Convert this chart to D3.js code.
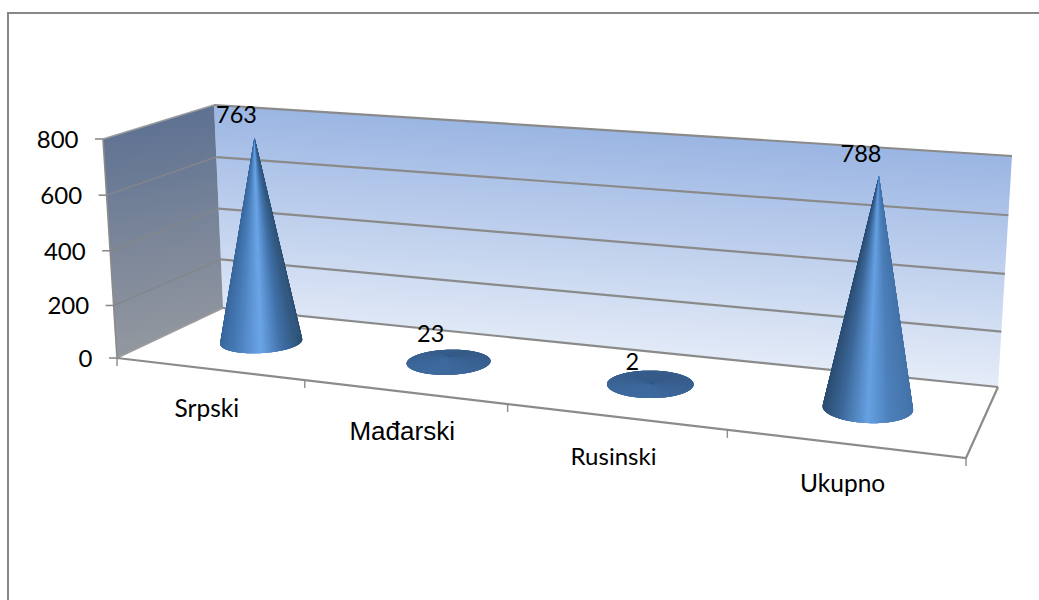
<!DOCTYPE html>
<html><head><meta charset="utf-8">
<script src="https://cdn.jsdelivr.net/npm/d3@7"></script>
<style>html,body{margin:0;padding:0;background:#fff;overflow:hidden}svg{display:block}text{fill:#000}</style>
</head><body><svg id="c" width="1039" height="600"></svg>
<script>
// ---- data ----
const categories = ["Srpski", "Mađarski", "Rusinski", "Ukupno"];
const values = [763, 23, 2, 788];
const yTicks = [0, 200, 400, 600, 800];

// ---- layout: projected corners of the chart box ----
const floorQuad = [[117,358],[966,458],[998,387],[223,308]];   // FL, FR, BR, BL
const topQuad   = [[103,139],[981,211],[1012,156],[214,105]];

function homography(q){
  const [[x0,y0],[x1,y1],[x2,y2],[x3,y3]] = q;
  const dx1=x1-x2, dx2=x3-x2, sx=x0-x1+x2-x3, dy1=y1-y2, dy2=y3-y2, sy=y0-y1+y2-y3;
  const den=dx1*dy2-dx2*dy1;
  const g=(sx*dy2-dx2*sy)/den, h=(dx1*sy-sx*dy1)/den;
  const a=x1-x0+g*x1, b=x3-x0+h*x3, c=x0, d=y1-y0+g*y1, e=y3-y0+h*y3, f=y0;
  return (u,v)=>{const w=g*u+h*v+1;return [(a*u+b*v+c)/w,(d*u+e*v+f)/w];};
}
const floorH = homography(floorQuad), topH = homography(topQuad);
const xBand = d3.scaleBand().domain(categories).range([0,1]);
const yT = d3.scalePow().exponent(1.03).domain([0,800]).range([0,1]);
const warp = u => u + .04*u*(1-u);
function P(u,d,v){
  const w=warp(u), a=floorH(w,d), b=topH(w,d), t=yT(v);
  return [a[0]+(b[0]-a[0])*t, a[1]+(b[1]-a[1])*t];
}
const leanX = d3.scaleLinear().domain([0,1]).range([-10.3,14.5]);
const svg = d3.select("#c");
const defs = svg.append("defs");
const line = d3.line();
const GRID="#8a8a8a", AXIS="#8b8b8b";

function grad(id,x1,y1,x2,y2,c1,c2){
  const g=defs.append("linearGradient").attr("id",id).attr("gradientUnits","userSpaceOnUse")
    .attr("x1",x1).attr("y1",y1).attr("x2",x2).attr("y2",y2);
  g.append("stop").attr("offset",0).attr("stop-color",c1);
  g.append("stop").attr("offset",1).attr("stop-color",c2);
}
grad("backWall",612,128,596,362,"#9ab5e3","#e6edf8");
grad("leftWall",150,122,185,338,"#5f7292","#92979f");

// outer frame
svg.append("path").attr("d","M8,600V13H1039").attr("fill","none").attr("stroke","#888").attr("stroke-width",2);

// walls
svg.append("path").attr("d",line([P(0,1,0),P(1,1,0),P(1,1,800),P(0,1,800)])+"Z").attr("fill","url(#backWall)");
svg.append("path").attr("d",line([P(0,0,0),P(0,1,0),P(0,1,800),P(0,0,800)])+"Z").attr("fill","url(#leftWall)");

// gridlines
yTicks.forEach(v=>{
  svg.append("path").attr("d",line([P(1,1,v),P(0,1,v)])).attr("fill","none").attr("stroke",GRID).attr("stroke-width",2.2);
  svg.append("path").attr("d",line([P(0,1,v),P(0,0,v)])).attr("fill","none").attr("stroke",v===0||v===800?"#9a9c9e":"#83868a").attr("stroke-width",1.5);
  const p=P(0,0,v);
  svg.append("path").attr("d",line([[p[0]-8,p[1]],p])).attr("stroke",AXIS).attr("stroke-width",1.6);
  svg.append("text").attr("x",p[0]-24.5).attr("y",p[1]+9).attr("text-anchor","end")
    .attr("font-family","Lato").attr("font-size",24).text(v);
});
// axes and floor edges
svg.append("path").attr("d",line([P(0,0,800),P(0,0,0)])).attr("fill","none").attr("stroke",AXIS).attr("stroke-width",1.6);
svg.append("path").attr("d",line([P(0,0,0),P(1,0,0),P(1,1,0)])).attr("fill","none").attr("stroke",AXIS).attr("stroke-width",2.2);
d3.range(categories.length+1).forEach(i=>{
  const p=P(i/categories.length,0,0);
  svg.append("path").attr("d",line([p,[p[0],p[1]+8]])).attr("stroke",AXIS).attr("stroke-width",1.4);
});

// category labels
const labelFonts=[["Lato",24.5],["Liberation Sans",26],["Lato",24],["Lato",24.5]];
categories.forEach((c,i)=>{
  const a=P(i/categories.length,0,0), b=P((i+1)/categories.length,0,0);
  svg.append("text").attr("x",(a[0]+b[0])/2-4).attr("y",(a[1]+b[1])/2+48).attr("text-anchor","middle")
    .attr("font-family",labelFonts[i][0]).attr("font-size",labelFonts[i][1]).text(c);
});

// cones
const shadeStops=[0,.2,.5,.75,1];
const shadeLeft = d3.scaleLinear().domain(shadeStops).range(["#3c6ca3","#4a80bd","#6ca6e8","#3f6fa6","#2a4a68"]);
const shadeRight = d3.scaleLinear().domain(shadeStops).range(["#2b4a6c","#3a6494","#66a0e2","#4f82bd","#487ab2"]);
const flat = d3.scaleLinear().domain([-1,1]).range(["#375c89","#3f6a9e"]);
const RU=.049, RD=.21, DEPTH=.5;
categories.forEach((c,i)=>{
  const u=xBand(c)+xBand.bandwidth()/2, v=values[i];
  const base=P(u,DEPTH,0), topPt=P(u,DEPTH,v);
  const apex=[base[0]+leanX(u)*yT(v), topPt[1]];
  const step=Math.PI/180;
  const angles=d3.range(0,360,1).map(a=>a*step);
  const rim=a=>P(u+RU*Math.cos(a),DEPTH+RD*Math.sin(a),0);
  const xs=angles.map(a=>rim(a)[0]), x0=d3.min(xs), x1=d3.max(xs);
  const g=svg.append("g");
  const tall=v>100;
  const colourAt=a=>{
    const k=(rim(a)[0]-x0)/(x1-x0);
    return tall?d3.interpolateRgb(shadeLeft(k),shadeRight(k))(u):flat(-Math.sin(a));
  };
  // back wedges first, then overlapping front wedges from left to right
  const back=angles.filter(a=>Math.sin(a)>=0);
  const front=angles.filter(a=>Math.sin(a)<0).sort((p,q)=>Math.cos(p)-Math.cos(q));
  back.concat(front).forEach(a=>{
    g.append("path").attr("d",line([apex,rim(a-step),rim(a+3*step)])+"Z").attr("fill",colourAt(a));
  });
  svg.append("text").attr("x",apex[0]-18).attr("y",apex[1]-14).attr("text-anchor","middle")
    .attr("font-family","Lato").attr("font-size",23.5).text(v);
});
</script></body></html>
